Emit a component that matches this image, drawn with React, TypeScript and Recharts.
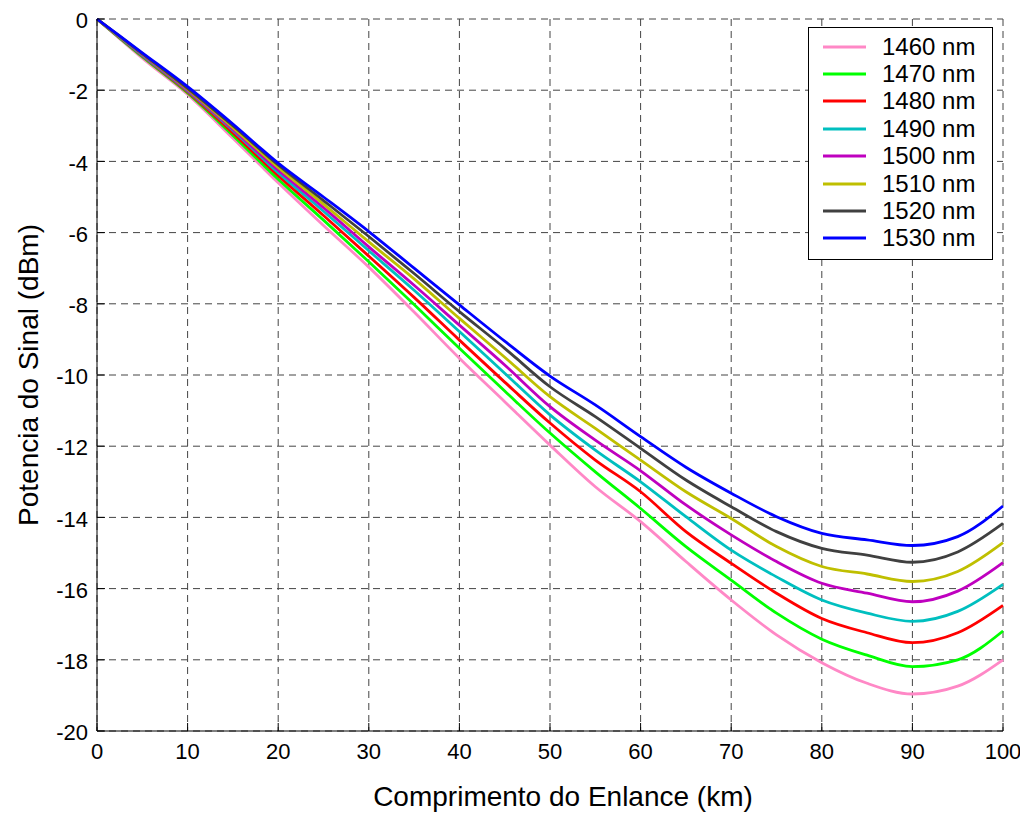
import React from "react";
import {
  LineChart,
  Line,
  XAxis,
  YAxis,
  CartesianGrid,
  Legend,
} from "recharts";

// distance along the link (km)
const km = [0, 5, 10, 15, 20, 25, 30, 35, 40, 45, 50, 55, 60, 65, 70, 75, 80, 85, 90, 95, 100];

// signal power (dBm) per wavelength
const p1460 = [0, -1.1, -2.12, -3.35, -4.6, -5.8, -6.97, -8.23, -9.53, -10.75, -11.97, -13.14, -14.12, -15.24, -16.32, -17.3, -18.08, -18.66, -18.96, -18.74, -18.0];
const p1470 = [0, -1.06, -2.08, -3.27, -4.5, -5.65, -6.82, -8.02, -9.25, -10.45, -11.63, -12.72, -13.75, -14.82, -15.76, -16.69, -17.42, -17.87, -18.19, -18.0, -17.19];
const p1480 = [0, -1.04, -2.05, -3.2, -4.4, -5.52, -6.66, -7.82, -9.02, -10.2, -11.35, -12.39, -13.28, -14.4, -15.29, -16.13, -16.84, -17.24, -17.52, -17.24, -16.47];
const p1490 = [0, -1.02, -2.02, -3.13, -4.32, -5.4, -6.51, -7.62, -8.78, -9.95, -11.12, -12.11, -13.0, -13.98, -14.92, -15.67, -16.32, -16.69, -16.92, -16.64, -15.88];
const p1500 = [0, -1.0, -2.0, -3.1, -4.25, -5.3, -6.4, -7.48, -8.6, -9.72, -10.89, -11.83, -12.69, -13.65, -14.49, -15.24, -15.85, -16.13, -16.37, -16.07, -15.27];
const p1510 = [0, -0.98, -1.97, -3.05, -4.17, -5.2, -6.26, -7.3, -8.41, -9.5, -10.61, -11.5, -12.39, -13.28, -14.03, -14.82, -15.38, -15.59, -15.8, -15.52, -14.71];
const p1520 = [0, -0.97, -1.95, -3.0, -4.1, -5.1, -6.11, -7.15, -8.22, -9.25, -10.33, -11.17, -12.06, -12.95, -13.7, -14.4, -14.87, -15.06, -15.26, -14.97, -14.17];
const p1530 = [0, -0.95, -1.9, -2.95, -4.05, -5.0, -5.97, -7.0, -8.03, -9.05, -10.03, -10.84, -11.73, -12.59, -13.32, -13.98, -14.45, -14.63, -14.79, -14.54, -13.68];

const xTicks = [0, 10, 20, 30, 40, 50, 60, 70, 80, 90, 100];
const yTicks = [-20, -18, -16, -14, -12, -10, -8, -6, -4, -2, 0];

const series = [
  { key: "s1460", name: "1460 nm", values: p1460, color: "#FF88C6" },
  { key: "s1470", name: "1470 nm", values: p1470, color: "#00FF00" },
  { key: "s1480", name: "1480 nm", values: p1480, color: "#FF0000" },
  { key: "s1490", name: "1490 nm", values: p1490, color: "#00BFBF" },
  { key: "s1500", name: "1500 nm", values: p1500, color: "#BF00BF" },
  { key: "s1510", name: "1510 nm", values: p1510, color: "#BFBF00" },
  { key: "s1520", name: "1520 nm", values: p1520, color: "#404040" },
  { key: "s1530", name: "1530 nm", values: p1530, color: "#0000FF" },
];

const data = km.map((d, i) => {
  const row: Record<string, number> = { km: d };
  series.forEach((s) => {
    row[s.key] = s.values[i];
  });
  return row;
});

const FONT = "'Liberation Sans', Arial, sans-serif";
const TICK_LEN = 8;
const X_MARGIN = 12;
const Y_MARGIN = 9;

// matlab style: ticks point into the plot
const BottomTick = (props: any) => {
  const { x, y, payload } = props;
  const axisY = y - X_MARGIN;
  return (
    <g>
      <line x1={x} x2={x} y1={axisY} y2={axisY - TICK_LEN} stroke="#000" />
      <text x={x} y={y} dy="0.72em" textAnchor="middle" fontSize={22} fontFamily={FONT} fill="#000">
        {payload.value}
      </text>
    </g>
  );
};

const LeftTick = (props: any) => {
  const { x, y, payload } = props;
  const axisX = x + Y_MARGIN;
  return (
    <g>
      <line x1={axisX} x2={axisX + TICK_LEN} y1={y} y2={y} stroke="#000" />
      <text x={x} y={y} dy="0.42em" textAnchor="end" fontSize={22} fontFamily={FONT} fill="#000">
        {payload.value}
      </text>
    </g>
  );
};

const TopTick = (props: any) => {
  const { x, y } = props;
  return <line x1={x} x2={x} y1={y} y2={y + TICK_LEN} stroke="#000" />;
};

const RightTick = (props: any) => {
  const { x, y } = props;
  return <line x1={x} x2={x - TICK_LEN} y1={y} y2={y} stroke="#000" />;
};

const LegendBox = () => (
  <div
    style={{
      border: "1px solid #000",
      background: "#fff",
      width: 183,
      height: 226,
      boxSizing: "content-box",
      paddingTop: 5,
      fontFamily: FONT,
    }}
  >
    {series.map((s) => (
      <div key={s.key} style={{ display: "flex", alignItems: "center", height: 27.4 }}>
        <svg width={73} height={10}>
          <line x1={14} x2={57} y1={5} y2={5} stroke={s.color} strokeWidth={2.8} />
        </svg>
        <span style={{ fontSize: 24, color: "#000", lineHeight: 1 }}>{s.name}</span>
      </div>
    ))}
  </div>
);

export default function App() {
  return (
    <div style={{ position: "fixed", top: 8, left: 8, background: "#fff" }}>
      <LineChart
        width={1012}
        height={806}
        data={data}
        margin={{ top: 11, right: 17, left: 0, bottom: 0 }}
      >
        <CartesianGrid stroke="#444" strokeDasharray="7 5" />
        <XAxis
          dataKey="km"
          type="number"
          domain={[0, 100]}
          ticks={xTicks}
          tickSize={0}
          tickMargin={X_MARGIN}
          tick={<BottomTick />}
          axisLine={{ stroke: "#000" }}
          height={83}
          interval={0}
          label={{
            value: "Comprimento do Enlance (km)",
            position: "insideBottom",
            offset: 8,
            dx: 13,
            fontSize: 28,
            fontFamily: FONT,
            fill: "#000",
          }}
        />
        <XAxis
          xAxisId="top"
          orientation="top"
          dataKey="km"
          type="number"
          domain={[0, 100]}
          ticks={xTicks}
          tickSize={0}
          tickMargin={0}
          tick={<TopTick />}
          axisLine={{ stroke: "#000" }}
          height={0}
          interval={0}
        />
        <YAxis
          type="number"
          domain={[-20, 0]}
          ticks={yTicks}
          tickSize={0}
          tickMargin={Y_MARGIN}
          tick={<LeftTick />}
          axisLine={{ stroke: "#000" }}
          width={89}
          interval={0}
          label={{
            value: "Potencia do Sinal (dBm)",
            angle: -90,
            position: "insideLeft",
            offset: 20,
            style: { textAnchor: "middle" },
            fontSize: 28,
            fontFamily: FONT,
            fill: "#000",
          }}
        />
        <YAxis
          yAxisId="right"
          orientation="right"
          type="number"
          domain={[-20, 0]}
          ticks={yTicks}
          tickSize={0}
          tickMargin={0}
          tick={<RightTick />}
          axisLine={{ stroke: "#000" }}
          width={0}
          interval={0}
        />
        {series.map((s) => (
          <Line
            key={s.key}
            dataKey={s.key}
            name={s.name}
            type="monotone"
            stroke={s.color}
            strokeWidth={2.8}
            dot={false}
            isAnimationActive={false}
          />
        ))}
        <Legend
          layout="vertical"
          align="center"
          verticalAlign="middle"
          content={<LegendBox />}
          wrapperStyle={{ top: 19, left: 800, width: 185, height: 233 }}
        />
      </LineChart>
    </div>
  );
}
